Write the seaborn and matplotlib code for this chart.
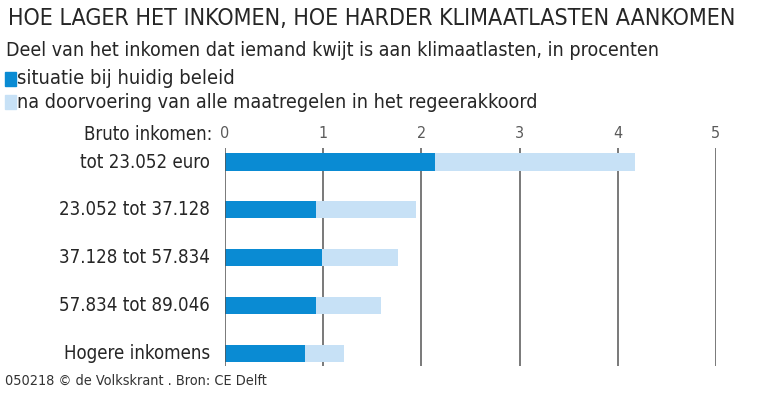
import matplotlib
matplotlib.use('Agg')
import matplotlib.pyplot as plt
import seaborn as sns
import pandas as pd
from matplotlib import font_manager

# Data
categories = ['tot 23.052 euro', '23.052 tot 37.128', '37.128 tot 57.834',
              '57.834 tot 89.046', 'Hogere inkomens']
huidig = [2.14, 0.93, 0.99, 0.93, 0.81]
regeerakkoord = [4.18, 1.95, 1.76, 1.59, 1.21]
ticks = [0, 1, 2, 3, 4, 5]

dark_blue = '#0a8bd3'
light_blue = '#c7e1f6'
text_col = '#262626'

sns.set_style('white')
plt.rcParams['font.family'] = ['DejaVu Sans']

# look for a narrow sans font (newspaper style), else fall back to DejaVu
narrow_file = None
for f in font_manager.fontManager.ttflist:
    low = f.fname.lower()
    if ('condensed' in low or 'narrow' in low) and 'bold' not in low and 'italic' not in low \
            and 'oblique' not in low and 'serif' not in f.name.lower() and 'mono' not in low:
        if 'light' in low or 'medium' in low or 'semi' in low or 'extra' in low:
            continue
        narrow_file = f.fname
        break
if narrow_file:
    fp = font_manager.FontProperties(fname=narrow_file)
else:
    fp = font_manager.FontProperties(family='DejaVu Sans', stretch='condensed')

df = pd.DataFrame({'cat': categories, 'huidig': huidig, 'totaal': regeerakkoord})

W, H = 763, 397
fig = plt.figure(figsize=(W / 100, H / 100), dpi=100)
ax = fig.add_axes([225 / W, 1 - 366 / H, (716 - 225) / W, (366 - 148) / H])

sns.barplot(data=df, y='cat', x='totaal', color=light_blue, width=0.36,
            saturation=1, linewidth=0, ax=ax, zorder=2)
sns.barplot(data=df, y='cat', x='huidig', color=dark_blue, width=0.36,
            saturation=1, linewidth=0, ax=ax, zorder=3)

ax.set_xlim(0, 5)
ax.set_ylim(4.26, -0.29)
for t in ticks:
    ax.axvline(t, color='#555555', lw=1.1, zorder=1 if t else 4)
for s in ax.spines.values():
    s.set_visible(False)
ax.set_xlabel('')
ax.set_ylabel('')
ax.set_xticks([])
ax.set_yticks([])

renderer = fig.canvas.get_renderer()


def put(x, y, s, width=None, size=14, ha='left', color=text_col):
    t = fig.text(x / W, 1 - y / H, s, ha=ha, va='center', fontproperties=fp,
                 fontsize=size, color=color)
    if width:
        w = t.get_window_extent(renderer).width
        t.set_fontsize(size * width / w)
    return t


# x tick labels on top
for t in ticks:
    put(225 + t * (716 - 225) / 5, 134, str(t), size=11.5, ha='center', color='#5a5a5a')

# category labels, scaled from the widest one
ref = put(210, 0, categories[2], width=152)
cat_size = ref.get_fontsize()
ref.remove()
for i, c in enumerate(categories):
    put(210, 162 + i * 47.9, c, size=cat_size, ha='right')
put(212, 134, 'Bruto inkomen:', size=cat_size, ha='right')

put(8, 19, 'HOE LAGER HET INKOMEN, HOE HARDER KLIMAATLASTEN AANKOMEN', width=732)
put(6, 51, 'Deel van het inkomen dat iemand kwijt is aan klimaatlasten, in procenten',
    width=656)

fig.patches.append(plt.Rectangle((5 / W, 1 - 86 / H), 11 / W, 14 / H,
                                 transform=fig.transFigure, color=dark_blue))
put(17, 79, 'situatie bij huidig beleid', width=220)
fig.patches.append(plt.Rectangle((5 / W, 1 - 109 / H), 11 / W, 14 / H,
                                 transform=fig.transFigure, color=light_blue))
put(17, 102, 'na doorvoering van alle maatregelen in het regeerakkoord', width=523)

put(5, 381, '050218 \u00a9 de Volkskrant . Bron: CE Delft', width=262, color='#333333')

fig.savefig('out.png', dpi=100)
